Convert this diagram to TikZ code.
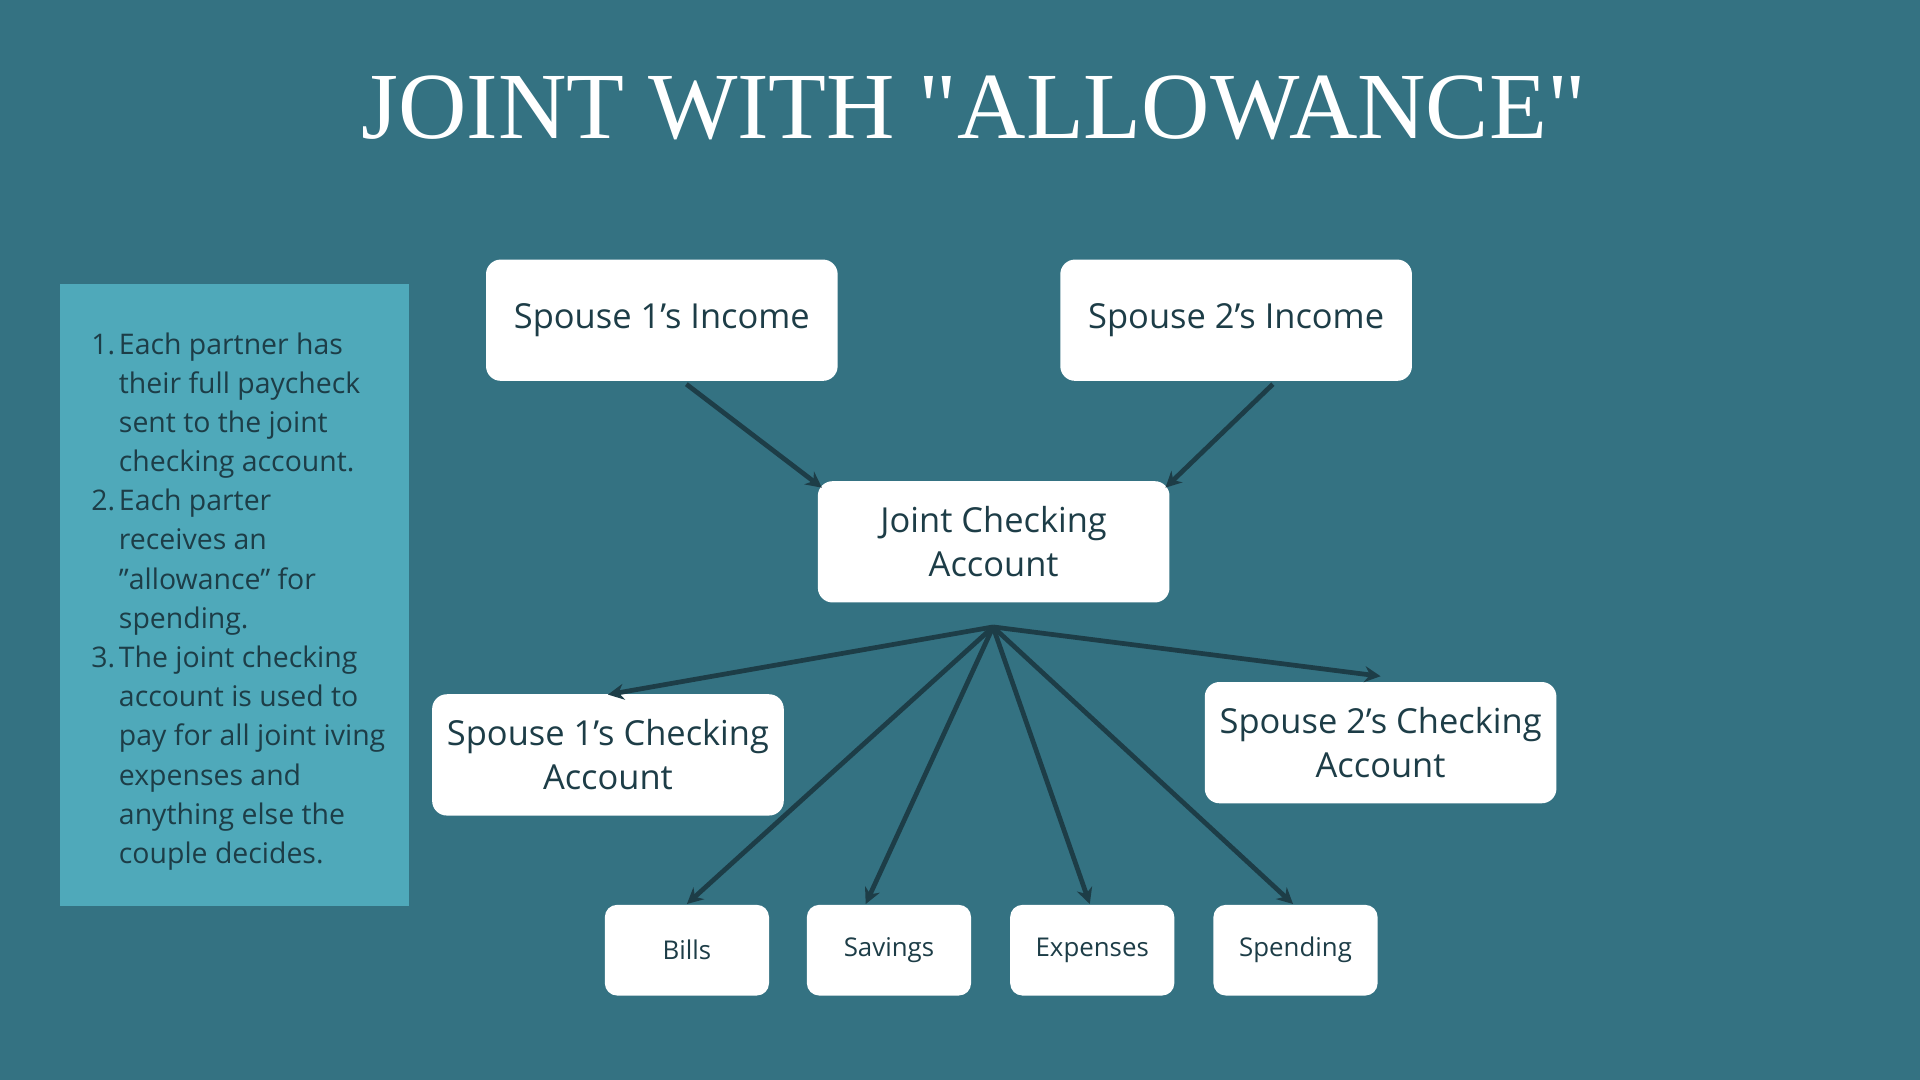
\documentclass[tikz,border=0pt]{standalone}
\usepackage{fontspec}
\setmainfont{Open Sans}
\newfontfamily\titlefont{Liberation Serif}
\usetikzlibrary{positioning,arrows.meta}
\definecolor{bgteal}{HTML}{347282}
\definecolor{noteteal}{HTML}{4FA9BA}
\definecolor{inkdark}{HTML}{1D3D47}
\tikzset{
  acct/.style={fill=white, rounded corners=0.12cm, minimum width=2.87cm, minimum height=0.99cm,
    align=center, text=inkdark, font=\fontsize{8pt}{10.2pt}\selectfont},
  pot/.style={fill=white, rounded corners=0.1cm, minimum width=1.34cm, minimum height=0.74cm,
    text=inkdark, font=\fontsize{6pt}{7pt}\selectfont},
  flow/.style={draw=inkdark, line width=1.1pt, -{Stealth[length=0.13cm,width=0.13cm]}}
}
\begin{document}
\begin{tikzpicture}[x=0.01cm,y=-0.01cm]
\fill[bgteal] (0,0) rectangle (1568,882);
\useasboundingbox (0,0) rectangle (1568,882);
\node[text=white, font=\titlefont\fontsize{22pt}{22pt}\selectfont] (title) at (795,88) {JOINT WITH "ALLOWANCE"};
% notes panel
\fill[noteteal] (49,232) rectangle (334,740);
\node[anchor=north west, inner sep=0, text=inkdark, font=\fontsize{6.6pt}{9.1pt}\selectfont] (notes) at (74,266)
  {\begin{tabular}{@{}r@{\hspace{0.3mm}}l@{}}
   1. & Each partner has\\
      & their full paycheck\\
      & sent to the joint\\
      & checking account.\\
   2. & Each parter\\
      & receives an\\
      & "allowance" for\\
      & spending.\\
   3. & The joint checking\\
      & account is used to\\
      & pay for all joint iving\\
      & expenses and\\
      & anything else the\\
      & couple decides.
   \end{tabular}};
% accounts
\node[acct] (s1in) at (540.5,261.5) {Spouse 1's Income};
\node[acct] (s2in) at (1009.5,261.5) {Spouse 2's Income};
\node[acct] (joint) at (811.5,442.5) {Joint Checking\\Account};
\node[acct] (s1chk) at (496.5,616.5) {Spouse 1's Checking\\Account};
\node[acct] (s2chk) at (1127.5,606.5) {Spouse 2's Checking\\Account};
\node[pot] (bills) at (561,776) {Bills};
\node[pot] (savings) at (726,776) {Savings};
\node[pot] (expenses) at (892,776) {Expenses};
\node[pot] (spending) at (1058,776) {Spending};
\coordinate (hub) at (811,512);
% flows
\draw[flow] ([xshift=0.2cm,yshift=-0.02cm]s1in.south) -- ([xshift=0.04cm,yshift=-0.06cm]joint.north west);
\draw[flow] ([xshift=0.3cm,yshift=-0.02cm]s2in.south) -- ([xshift=-0.04cm,yshift=-0.06cm]joint.north east);
\draw[flow] (hub) -- ([yshift=-0.01cm]s1chk.north);
\draw[flow] (hub) -- ([yshift=0.04cm]s2chk.north);
\draw[flow] (hub) -- (bills.north);
\draw[flow] (hub) -- ([xshift=-0.19cm]savings.north);
\draw[flow] (hub) -- ([xshift=-0.02cm]expenses.north);
\draw[flow] (hub) -- ([xshift=-0.02cm]spending.north);
\end{tikzpicture}
\end{document}
